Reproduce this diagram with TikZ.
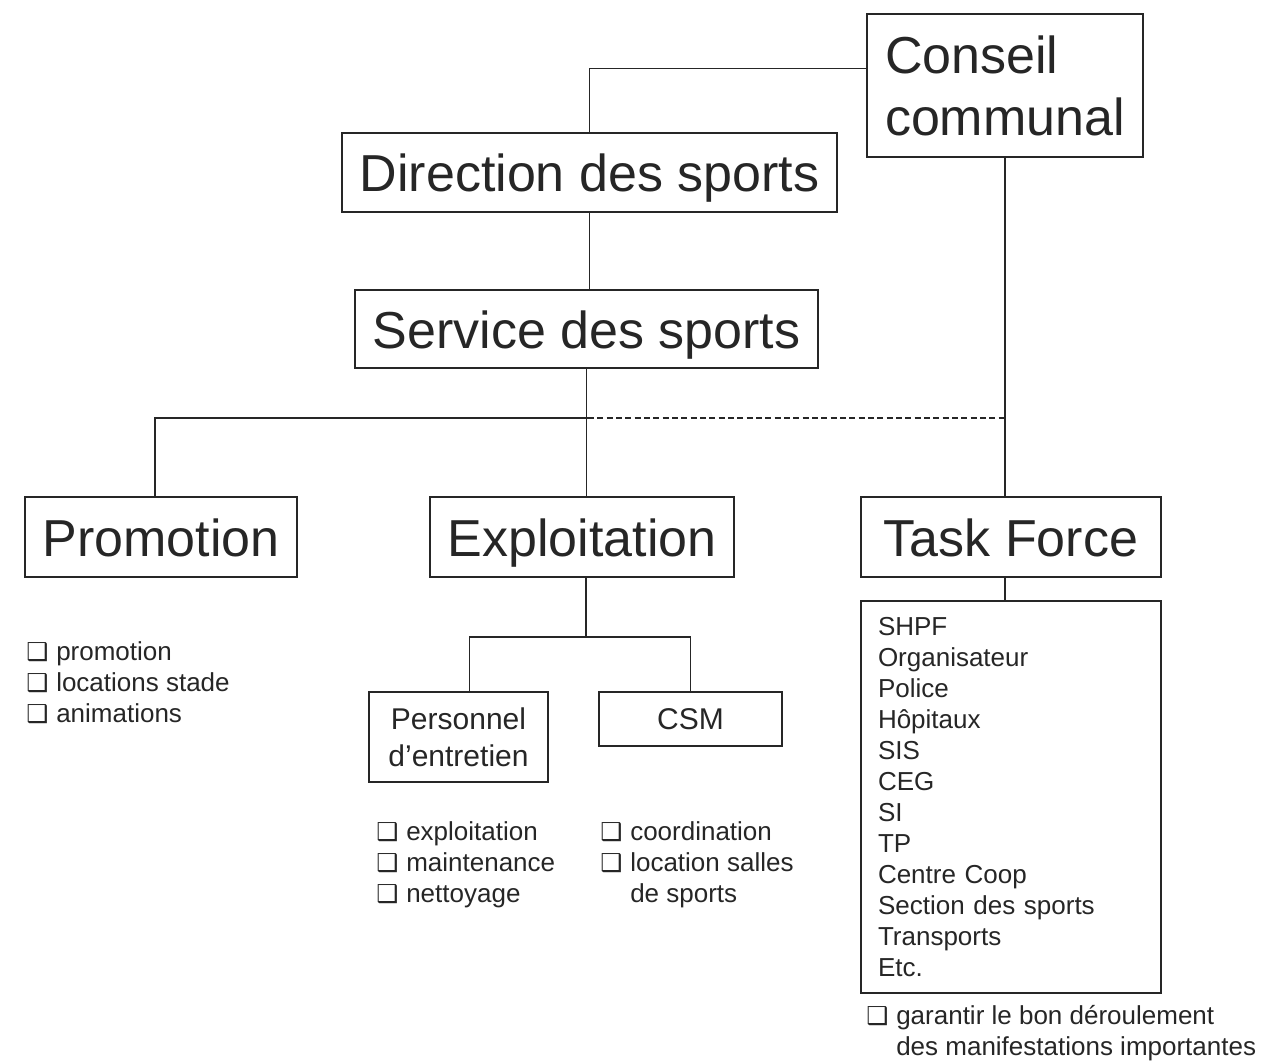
\documentclass[tikz,border=0pt]{standalone}
\usepackage{fontspec}
\setmainfont{Liberation Sans}
\newfontfamily\symfont{DejaVu Sans}
\usetikzlibrary{positioning}

\newcommand{\tick}{\makebox[22.5pt][l]{\smash{\symfont\fontsize{18.5}{18.5}\selectfont ❑}}}
\newcommand{\notick}{\hspace*{22.5pt}}

\tikzset{
  box/.style={draw=black!85, line width=0.9pt, inner sep=0pt, align=center, text=black!85},
  bigbox/.style={box, font=\fontsize{39}{47}\selectfont, text height=33pt, text depth=4pt},
  midbox/.style={box, font=\fontsize{22.5}{27.75}\selectfont},
  items/.style={anchor=north west, inner sep=0pt, align=left, text=black!85, font=\fontsize{19.5}{23.25}\selectfont},
  link/.style={draw=black!85, line width=0.9pt}
}

\begin{document}
\begin{tikzpicture}[x=0.75pt, y=-0.75pt]
  \useasboundingbox (0,0) rectangle (1263,1062);

  % top of the chart
  \node[box, align=left, font=\fontsize{39}{47}\selectfont, text depth=-4pt,
        minimum width=207pt, minimum height=107.25pt] (con) at (1005,85.5) {Conseil\\communal};
  \node[bigbox, minimum width=371.25pt, minimum height=59.25pt] (dir) at (589.5,172.5) {Direction des sports};
  \node[bigbox, minimum width=347.25pt, minimum height=58.5pt] (srv) at (586.5,329) {Service des sports};

  % three sections
  \node[bigbox, minimum width=204pt, minimum height=60pt] (promo) at (161,537) {Promotion};
  \node[bigbox, minimum width=228pt, minimum height=60pt] (expl) at (582,537) {Exploitation};
  \node[bigbox, minimum width=225pt, minimum height=60pt] (tf) at (1011,537) {Task Force};

  % under Exploitation
  \node[midbox, minimum width=134.25pt, minimum height=67.5pt] (pers) at (458.5,737) {Personnel\\d'entretien};
  \node[midbox, minimum width=137.25pt, minimum height=40.5pt] (csm) at (690.5,719) {CSM};

  % members of the task force
  \node[box, inner xsep=12.75pt, text width=199.5pt, minimum height=294pt,
        align=left, font=\fontsize{19.5}{23.25}\selectfont] (tlist) at (1011,797)
    {SHPF\\Organisateur\\Police\\Hôpitaux\\SIS\\CEG\\SI\\TP\\Centre Coop\\Section des sports\\Transports\\Etc.};

  % tasks
  \node[items] (promotasks) at (26,641) {\tick promotion\\\tick locations stade\\\tick animations};
  \node[items] (perstasks) at (376,821) {\tick exploitation\\\tick maintenance\\\tick nettoyage};
  \node[items] (csmtasks) at (600,821) {\tick coordination\\\tick location salles\\\notick de sports};
  \node[items] (tftasks) at (866,1005) {\tick garantir le bon déroulement\\\notick des manifestations importantes};

  % connectors
  \coordinate (hub) at (588,418);
  \coordinate (ebranch) at (586,637);
  \draw[link] ([yshift=13pt]con.west) -| (dir.north);
  \draw[link] (dir.south) -- (dir.south |- srv.north);
  \draw[link] (srv.south) -- (srv.south |- expl.north);
  \draw[link] (hub) -| ([xshift=-4.5pt]promo.north);
  \draw[link, dash pattern=on 4.5pt off 2.5pt] (hub) -- (hub -| con.south);
  \draw[link] (con.south) -- (con.south |- tf.north);
  \draw[link] (con.south |- tf.south) -- (con.south |- tlist.north);
  \draw[link] (ebranch |- expl.south) -- (ebranch);
  \draw[link] ([xshift=8pt]pers.north) |- (ebranch) -| (csm.north);
\end{tikzpicture}
\end{document}
